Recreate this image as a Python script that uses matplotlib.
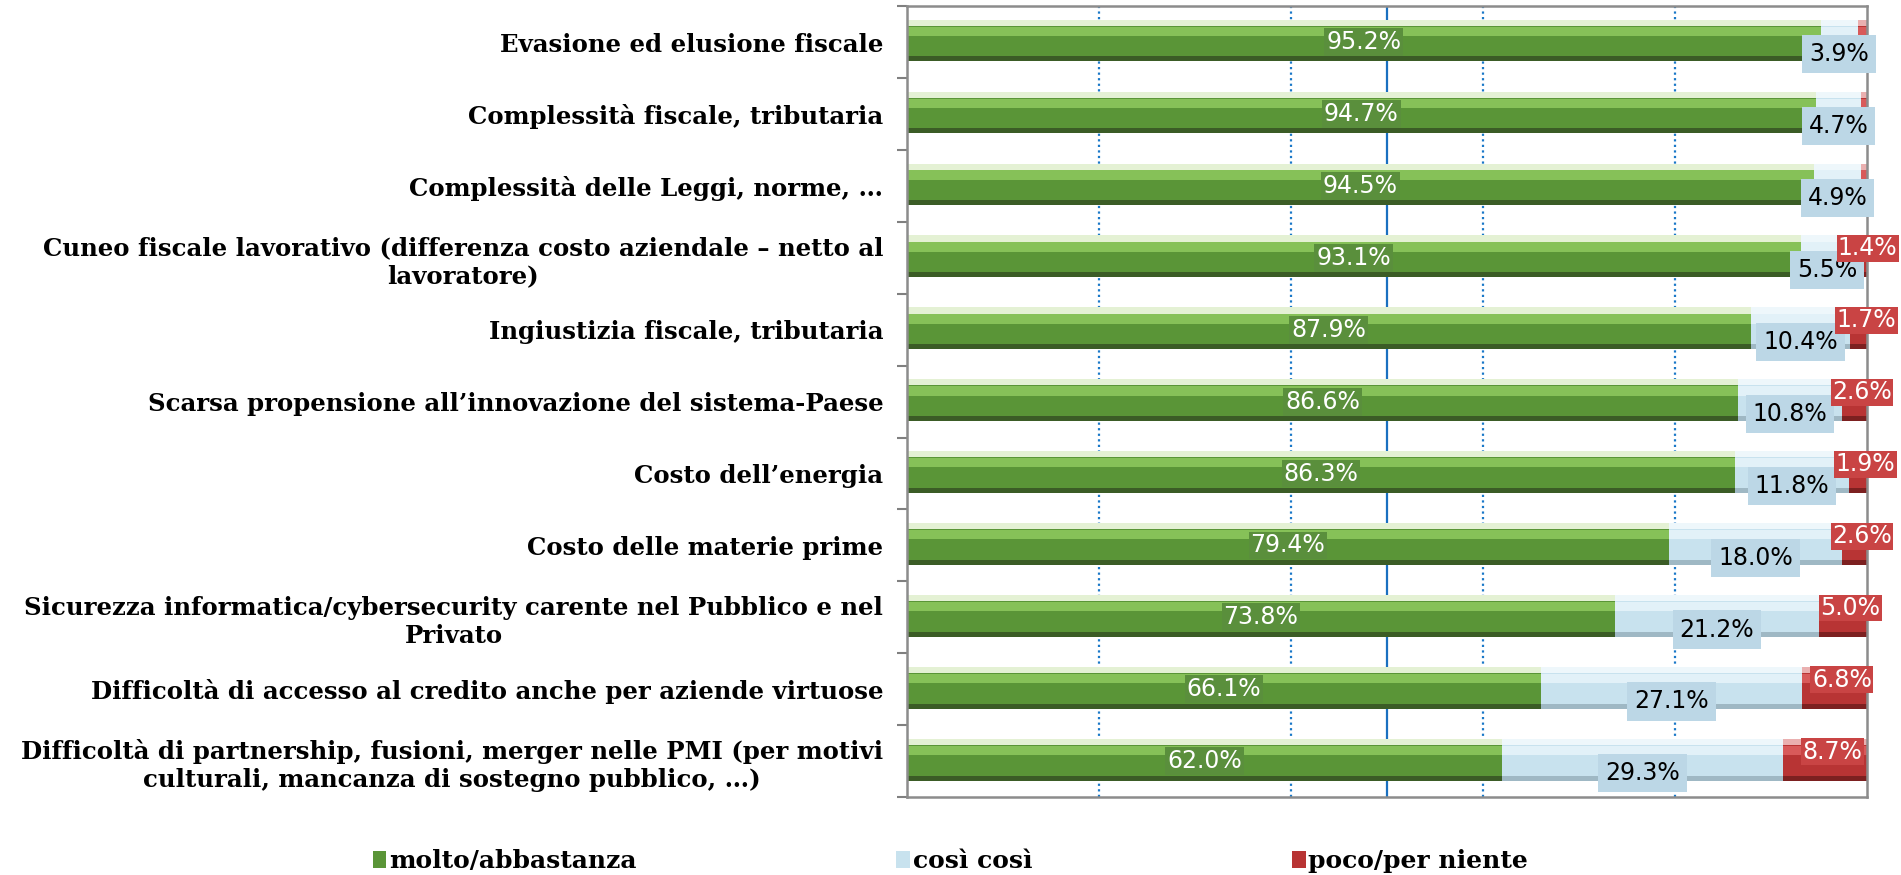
import numpy as np
import matplotlib
matplotlib.use("Agg")
import matplotlib.pyplot as plt
from matplotlib.patches import Patch

# === Dati ===
categorie = [
    "Evasione ed elusione fiscale",
    "Complessità fiscale, tributaria",
    "Complessità delle Leggi, norme, …",
    "Cuneo fiscale lavorativo (differenza costo aziendale – netto al\nlavoratore)",
    "Ingiustizia fiscale, tributaria",
    "Scarsa propensione all’innovazione del sistema-Paese",
    "Costo dell’energia",
    "Costo delle materie prime",
    "Sicurezza informatica/cybersecurity carente nel Pubblico e nel\nPrivato",
    "Difficoltà di accesso al credito anche per aziende virtuose",
    "Difficoltà di partnership, fusioni, merger nelle PMI (per motivi\nculturali, mancanza di sostegno pubblico, …)",
]
molto = [95.2, 94.7, 94.5, 93.1, 87.9, 86.6, 86.3, 79.4, 73.8, 66.1, 62.0]
cosi = [3.9, 4.7, 4.9, 5.5, 10.4, 10.8, 11.8, 18.0, 21.2, 27.1, 29.3]
poco = [0.9, 0.6, 0.6, 1.4, 1.7, 2.6, 1.9, 2.6, 5.0, 6.8, 8.7]
serie = ["molto/abbastanza", "così così", "poco/per niente"]

# === Stile barre "3D" ===
stili = [
    dict(top="#e4f1d4", hi="#86c158", main="#5a9537", dark="#3b5c26", box="#5a8f3c", txt="white"),
    dict(top="#eef7fb", hi="#e2f1f8", main="#c8e2ee", dark="#9fb8c4", box="#bcd7e6", txt="black"),
    dict(top="#eab0b0", hi="#d85a5a", main="#b83434", dark="#7c2020", box="#c94444", txt="white"),
]

fig = plt.figure(figsize=(19.01, 8.75), dpi=100)
ax = fig.add_axes([0.477, 0.089, 0.505, 0.904])

y = np.arange(len(categorie))
valori = [np.array(molto), np.array(cosi), np.array(poco)]
left = np.zeros(len(categorie))

for v, st in zip(valori, stili):
    ax.barh(y - 0.268, v, left=left, height=0.085, color=st["top"], zorder=2)
    ax.barh(y + 0.0225, v, left=left, height=0.495, color=st["main"], zorder=2)
    ax.barh(y - 0.15, v, left=left, height=0.13, color=st["hi"], zorder=2)
    ax.barh(y + 0.235, v, left=left, height=0.07, color=st["dark"], zorder=2)
    left = left + v

# etichette valori
fs = 17
for i in range(len(categorie)):
    m, c, p = molto[i], cosi[i], poco[i]
    ax.text(m / 2, y[i], f"{m:.1f}%", ha="center", va="center", fontsize=fs,
            color="white", zorder=5,
            bbox=dict(boxstyle="square,pad=0.08", fc=stili[0]["box"], ec="none"))
    ax.text(m + c / 2, y[i] + 0.17, f"{c:.1f}%", ha="center", va="center", fontsize=fs,
            color="black", zorder=5,
            bbox=dict(boxstyle="square,pad=0.3", fc=stili[1]["box"], ec="none"))
    if p >= 1:
        xr = min(m + c + p / 2 + 0.8, 100.1)
        ax.text(xr, y[i] - 0.13, f"{p:.1f}%", ha="center", va="center", fontsize=fs,
                color="white", zorder=6, clip_on=False,
                bbox=dict(boxstyle="square,pad=0.06", fc=stili[2]["box"], ec="none"))

ax.set_xlim(0, 100)
ax.set_ylim(len(categorie) - 0.5, -0.5)

# griglia
for gx in [20, 40, 60, 80]:
    ax.axvline(gx, color="#1a78c8", lw=1.6, ls=(0, (1, 1.5)), zorder=1)
ax.axvline(50, color="#1a70c0", lw=1.6, zorder=1)

ax.set_xticks([])
ax.set_yticks(y)
ax.set_yticklabels(categorie, fontsize=17.6, fontweight="bold", family="DejaVu Serif",
                   multialignment="center")
ax.tick_params(axis="y", length=0, pad=17)
ax.set_yticks(np.arange(len(categorie) + 1) - 0.5, minor=True)
ax.tick_params(axis="y", which="minor", length=7, color="#808080", width=1.5)
for s in ax.spines.values():
    s.set_color("#8c8c8c")
    s.set_linewidth(1.8)

handles = [Patch(facecolor=st["main"], edgecolor="none") for st in stili]
fig.legend(handles, serie, loc="center", bbox_to_anchor=(0.5, 0.016), ncol=3,
           frameon=False, handlelength=0.55, handleheight=0.7, handletextpad=0.1,
           columnspacing=10.4, prop=dict(family="DejaVu Serif", weight="bold", size=18))

fig.savefig("out.png", dpi=100)
